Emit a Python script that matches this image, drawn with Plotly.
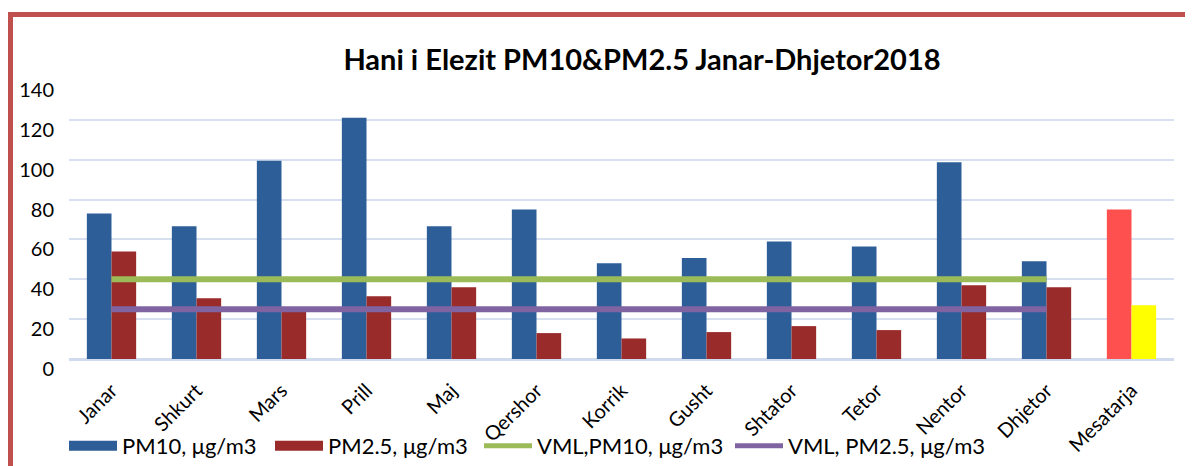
import plotly.graph_objects as go

categories = ["Janar", "Shkurt", "Mars", "Prill", "Maj", "Qershor", "Korrik",
              "Gusht", "Shtator", "Tetor", "Nentor", "Dhjetor", "Mesatarja"]
pm10 = [73, 66.6, 99.5, 121, 66.6, 75, 48, 50.7, 59, 56.4, 98.7, 49, 75]
pm25 = [54, 30.5, 26, 31.5, 36, 13, 10.3, 13.5, 16.5, 14.5, 37, 36, 27]
line_categories = categories[:12]
vml_pm10 = [40, 40, 40, 40, 40, 40, 40, 40, 40, 40, 40, 40]
vml_pm25 = [25, 25, 25, 25, 25, 25, 25, 25, 25, 25, 25, 25]
y_ticks = [0, 20, 40, 60, 80, 100, 120, 140]
legend_names = ["PM10, μg/m3", "PM2.5, μg/m3", "VML,PM10, μg/m3", "VML, PM2.5, μg/m3"]

BLUE = "#2D5E98"
DARKRED = "#992B2A"
GREEN = "#9BBB59"
PURPLE = "#8064A2"
AVG10 = "#FF5050"
AVG25 = "#FFFF00"
FONT = "Lato"

pm10_colors = [BLUE] * 12 + [AVG10]
pm25_colors = [DARKRED] * 12 + [AVG25]

fig = go.Figure()
fig.add_trace(go.Bar(x=categories, y=pm10, name=legend_names[0],
                     marker=dict(color=pm10_colors, line=dict(width=0)),
                     showlegend=False))
fig.add_trace(go.Bar(x=categories, y=pm25, name=legend_names[1],
                     marker=dict(color=pm25_colors, line=dict(width=0)),
                     showlegend=False))
fig.add_trace(go.Scatter(x=line_categories, y=vml_pm10, mode="lines",
                         name=legend_names[2], showlegend=False,
                         line=dict(color=GREEN, width=6)))
fig.add_trace(go.Scatter(x=line_categories, y=vml_pm25, mode="lines",
                         name=legend_names[3], showlegend=False,
                         line=dict(color=PURPLE, width=6)))

# page body has an 8px margin; work in screen pixels and convert
OFF = 8
W, H = 1193 - OFF, 466 - OFF
PLOT_X0, PLOT_X1, PLOT_Y0, PLOT_Y1 = 69, 1174, 80, 359  # screen pixels
L = PLOT_X0 - OFF
R = W - (PLOT_X1 - OFF)
T = PLOT_Y0 - OFF
B = H - (PLOT_Y1 - OFF)
pw, ph = W - L - R, H - T - B

def px(xs):
    return (xs - OFF - L) / pw

def py(ys):
    return (H - B - (ys - OFF)) / ph

# legend entries, each in its own legend box
legend_cols = [BLUE, DARKRED, GREEN, PURPLE]
legend_widths = [12, 12, 5, 5]
legend_x = [70, 276, 485, 736]
legend_layout = {}
for i, (nm, col, w, lx) in enumerate(zip(legend_names, legend_cols, legend_widths, legend_x)):
    key = "legend" if i == 0 else f"legend{i + 1}"
    fig.add_trace(go.Scatter(x=[None], y=[None], mode="lines", name=nm,
                             legend=key, line=dict(color=col, width=w)))
    legend_layout[key] = dict(
        orientation="h", x=px(lx - 6), xanchor="left",
        y=1 - (446 - OFF) / H, yanchor="middle", yref="container",
        font=dict(size=22, family=FONT, color="black"),
        itemwidth=48, bgcolor="rgba(0,0,0,0)")

fig.add_shape(type="rect", xref="paper", yref="paper",
              x0=px(10.5), x1=px(1215), y0=py(490), y1=py(14.5),
              line=dict(color="#C0504D", width=5), fillcolor="rgba(0,0,0,0)",
              layer="above")

fig.update_layout(
    width=W, height=H,
    margin=dict(l=L, r=R, t=T, b=B),
    paper_bgcolor="white", plot_bgcolor="white",
    barmode="group", bargap=0.42, bargroupgap=0,
    font=dict(family=FONT, color="black"),
    title=dict(text="<b>Hani i Elezit PM10&PM2.5 Janar-Dhjetor2018</b>",
               x=(642 - OFF) / W, xanchor="center", xref="container",
               y=1 - (60 - OFF) / H, yanchor="middle", yref="container",
               font=dict(size=29, family=FONT, color="black")),
    xaxis=dict(type="category", tickangle=-45, showgrid=False, automargin=False,
               tickfont=dict(size=20, family=FONT, color="black"),
               ticklabelstandoff=15, showline=False, ticks=""),
    yaxis=dict(range=[0, 140], tickvals=y_ticks, showgrid=True, automargin=False,
               gridcolor="#D6E0F0", gridwidth=2,
               zeroline=True, zerolinecolor="#D0DCEE", zerolinewidth=3,
               tickfont=dict(size=20, family=FONT, color="black"),
               ticklabelstandoff=14, ticklabelshift=10, ticks=""),
    **legend_layout,
)

fig.write_html("out.html")
